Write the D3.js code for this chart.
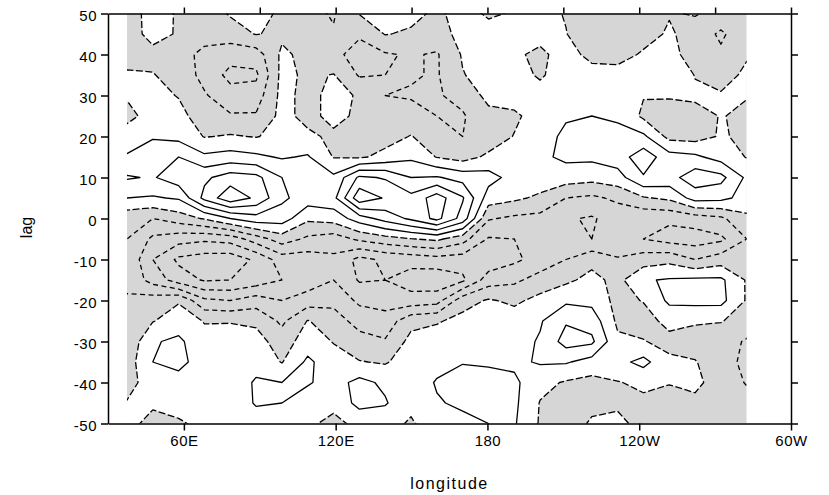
<!DOCTYPE html>
<html>
<head>
<meta charset="utf-8">
<script src="https://cdnjs.cloudflare.com/ajax/libs/d3/7.8.5/d3.min.js"></script>
<style>
    body {
        margin: 0;
        background: white;
    }

    svg {
        display: block;
        font-family: "Liberation Sans", Arial, Helvetica, sans-serif;
    }
</style>
</head>
<body>
<svg id="chart"></svg>
<script>
    // axis ticks and labels
    const lonLabelTicks = [60, 120, 180, 240, 300]
    const lonLabels = ["60E", "120E", "180", "120W", "60W"]
    const lonTopTicks = [60, 90, 120, 150, 180, 210, 240, 270, 300]
    const lagTicks = [-50, -40, -30, -20, -10, 0, 10, 20, 30, 40, 50]

    // data grid: columns span 37.5E .. 282.5E, rows are lags 50 .. -50
    const lonExtent = [37.5, 282.5]
    const lags = [50, 45, 40, 35, 30, 25, 20, 15, 10, 5, 0, -5, -10, -15, -20, -25, -30, -35, -40, -45, -50]
    const levels = [-5, -4, -3, -2, -1, 0, 1, 2, 3, 4, 5]

    // one row per lag, 25 longitudes each
    const field = [
        [-0.5, 0.4, -0.1, -0.6, 0.1, 0.4, -0.2, -0.7, -1.1, 0.05, 0.4, 0.3, -0.2, 0.4, -0.15, 0.1, 0.5, -0.1, -0.6, -0.5, -0.4, -0.05, 0.05, -0.2, -0.05],
        [-0.5, 0.35, -0.1, -0.7, -0.5, 0.05, -0.2, -0.8, -0.9, -0.9, 0.05, -0.15, -0.4, 0.3, 0.4, 0.4, 0.3, 0.05, -1.0, -0.6, -0.3, 0.1, -0.3, -1.2, -0.2],
        [-0.3, -0.3, -0.7, -1.2, -1.6, -1.5, 0.2, -0.3, -0.8, -1.3, -1.1, -0.9, -1.1, 0.1, 0.4, 0.15, -0.2, 0.4, -0.3, -0.3, 0.1, 0.3, -0.4, -0.8, -0.1],
        [0.1, 0.05, -0.4, -1.3, -2.3, -2.2, 0.3, -0.2, 0.05, -1.1, -1.0, -0.9, -1.1, -0.05, 0.4, 0.3, -0.1, 0.4, 0.4, 0.3, 0.4, 1.0, -0.05, -0.4, 0.2],
        [0.1, 0.3, -0.05, -0.9, -1.6, -1.5, 0.3, -0.3, 0.3, -0.1, -1.0, -1.1, -1.1, -0.7, 0.3, 0.5, 0.3, 0.7, 0.8, 0.5, 0.05, 0.1, 0.2, 0.1, 0.05],
        [-0.3, 0.4, 0.3, -0.5, -0.9, -0.9, 0.3, -0.3, 0.3, -0.2, -0.9, -0.6, -1.0, -1.1, -0.3, -0.2, 0.5, 0.9, 1.0, 0.9, -0.2, -0.5, -0.4, 0.05, -0.2],
        [0.5, 0.9, 0.7, -0.05, 0.1, -0.05, 0.3, 0.2, -0.2, -0.4, -0.4, 0.05, -0.6, -1.0, -0.6, 0.05, 0.6, 1.2, 1.1, 1.2, 1.2, -0.3, -0.4, 0.1, -0.2],
        [1.1, 1.6, 2.0, 1.2, 1.4, 1.2, 0.9, 1.1, -0.05, -0.15, 0.3, 0.8, -0.05, -0.4, 0.2, 0.4, 0.8, 1.2, 1.2, 1.5, 2.6, 1.4, 1.2, 0.6, -0.05],
        [2.1, 1.9, 2.6, 2.8, 3.5, 3.3, 2.0, 1.9, 1.2, 3.2, 2.9, 2.0, 2.1, 1.6, 1.4, 0.6, 0.6, 0.5, 0.35, 0.6, 1.9, 1.6, 2.6, 2.3, 0.8],
        [1.0, 0.9, 1.1, 3.3, 4.7, 3.8, 2.2, 1.5, 1.7, 4.7, 3.9, 3.3, 4.5, 3.1, 0.5, 0.2, -0.2, -1.0, -1.2, -0.8, -0.1, 0.2, 1.4, 1.3, 0.6],
        [-0.7, -1.0, -0.5, 0.1, 1.0, 1.6, 1.5, 0.2, 0.4, 1.5, 2.4, 3.2, 4.3, 2.6, -0.9, -1.2, -1.3, -1.9, -2.1, -1.6, -1.8, -1.8, -1.5, -1.2, -0.2],
        [-1.0, -2.2, -2.6, -2.8, -2.6, -1.5, -0.5, -1.2, -1.5, -0.8, -0.4, -0.05, 0.2, -0.6, -2.1, -2.0, -1.7, -2.0, -2.0, -1.8, -2.0, -2.4, -2.5, -2.2, -1.0],
        [-1.1, -3.0, -4.2, -4.5, -4.6, -3.8, -2.5, -2.5, -2.2, -3.3, -2.8, -2.6, -2.4, -2.5, -2.7, -2.2, -1.6, -1.0, -0.3, -0.9, -0.5, -0.3, -1.0, -0.5, -0.6],
        [-1.2, -2.4, -3.5, -4.1, -4.0, -3.6, -3.0, -2.6, -2.0, -3.1, -3.0, -3.5, -3.7, -3.2, -1.5, -1.2, -0.6, -0.2, 0.3, -0.3, 0.9, 1.1, 1.2, 1.2, -0.1],
        [-0.9, -0.5, -0.1, -1.8, -2.0, -1.5, -2.0, -1.5, -1.3, -2.2, -2.4, -2.6, -2.4, -0.4, 0.1, -0.2, 0.3, 0.8, 0.7, -0.3, 0.05, 1.2, 1.3, 1.3, -0.1],
        [-1.0, -0.05, 0.5, -0.05, -0.05, -0.2, -1.2, 0.05, -0.5, -1.4, -1.6, -0.3, -0.1, 0.3, 0.4, 0.5, 0.9, 1.9, 1.6, -0.2, -0.4, 0.3, 0.1, 0.05, -0.4],
        [-0.8, 0.9, 1.2, 0.3, 0.4, 0.4, -0.5, 0.5, -0.05, -0.6, -0.9, 0.3, 0.5, 0.5, 0.5, 0.6, 1.1, 2.4, 2.2, 0.2, 0.05, -0.3, -0.4, -0.6, -1.1],
        [-0.5, 1.0, 1.3, 0.5, 0.6, 0.7, -0.05, 1.2, 0.4, 0.05, -0.1, 0.5, 0.6, 0.95, 0.9, 0.8, 1.1, 1.1, 0.6, 0.7, 1.3, 0.2, 0.05, -0.5, -1.3],
        [-0.3, 0.4, 0.6, 0.3, 0.5, 1.1, 1.0, 1.1, 0.6, 1.3, 0.8, 0.3, 1.1, 1.4, 1.3, 1.2, 0.3, -0.1, -0.3, -0.05, 0.2, 0.05, 0.1, -0.2, -1.1],
        [0.05, 0.1, 0.3, 0.3, 0.3, 1.1, 1.0, 0.5, 0.3, 1.3, 1.1, 0.2, 0.9, 1.2, 1.1, 1.2, -0.05, -0.6, -0.2, -0.2, -0.2, -0.4, -0.1, -0.4, -0.5],
        [0.2, -0.2, -0.1, 0.2, 0.2, 0.5, 0.3, 0.2, -0.3, 0.3, 0.3, -0.1, 0.5, 0.7, 1.0, 1.1, -0.1, -0.4, 0.1, 0.3, -0.4, -0.8, -0.8, -0.6, -0.4]
    ]

    drawChart()

    function getConfig() {
        let width = 829
        let height = 495
        let margin = { top: 13.5, bottom: 71.5, left: 108, right: 38 }
        let bodyWidth = width - margin.left - margin.right
        let bodyHeight = height - margin.top - margin.bottom
        let container = d3.select("#chart")
            .attr("width", width)
            .attr("height", height)
        return { width, height, margin, bodyWidth, bodyHeight, container }
    }

    function getScales(config) {
        let { margin, width, height } = config
        let xScale = d3.scaleLinear()
            .domain([30, 300])
            .range([margin.left, width - margin.right])
        let yScale = d3.scaleLinear()
            .domain([-50, 50])
            .range([height - margin.bottom, margin.top])
        return { xScale, yScale }
    }

    function drawChart() {
        let config = getConfig()
        let scales = getScales(config)
        drawField(config, scales)
        drawAxes(config, scales)
    }

    function drawField(config, scales) {
        let { container } = config
        let { xScale, yScale } = scales
        let nx = field[0].length
        let ny = lags.length
        let dLon = (lonExtent[1] - lonExtent[0]) / (nx - 1)
        let dLag = (lags[0] - lags[ny - 1]) / (ny - 1)

        // grid coords: sample i sits at i + 0.5
        let toScreen = d3.geoTransform({
            point: function (gx, gy) {
                let lon = lonExtent[0] + (gx - 0.5) * dLon
                let lag = lags[0] - (gy - 0.5) * dLag
                this.stream.point(xScale(lon), yScale(lag))
            }
        })
        let path = d3.geoPath(toScreen)

        let values = field.flat()
        let contours = d3.contours()
            .size([nx, ny])
            .thresholds(levels)(values)

        let x0 = xScale(lonExtent[0]), x1 = xScale(lonExtent[1])
        let y0 = yScale(lags[0]), y1 = yScale(lags[ny - 1])

        container.append("clipPath")
            .attr("id", "dataClip")
            .append("rect")
            .attr("x", x0)
            .attr("y", y0)
            .attr("width", x1 - x0)
            .attr("height", y1 - y0)

        let body = container.append("g").attr("clip-path", "url(#dataClip)")

        // negative values are shaded: grey underneath, white where >= 0
        body.append("rect")
            .attr("x", x0)
            .attr("y", y0)
            .attr("width", x1 - x0)
            .attr("height", y1 - y0)
            .attr("fill", "#d6d6d6")

        body.append("path")
            .datum(contours.find(c => c.value === 0))
            .attr("d", path)
            .attr("fill", "white")

        body.selectAll(".iso")
            .data(contours)
            .enter().append("path")
            .attr("class", "iso")
            .attr("d", path)
            .attr("fill", "none")
            .attr("stroke", "black")
            .attr("stroke-width", 1.3)
            .attr("stroke-linejoin", "round")
            .attr("stroke-dasharray", d => d.value < 0 ? "5,3.5" : (d.value === 0 ? "7,2.5" : null))
    }

    function drawAxes(config, scales) {
        let { container, margin, width, height } = config
        let { xScale, yScale } = scales
        let bottom = height - margin.bottom
        let right = width - margin.right

        let styleAxis = g => {
            g.selectAll("path, line").attr("stroke", "black").attr("stroke-width", 1.5)
            g.selectAll("text")
                .attr("fill", "black")
                .style("font-size", "15px")
                .style("letter-spacing", "0.5px")
        }

        let yAxis = d3.axisLeft(yScale)
            .tickValues(lagTicks)
            .tickSize(7)
            .tickSizeOuter(0)
            .tickPadding(4)
            .tickFormat(d => d)
        container.append("g")
            .attr("transform", `translate(${margin.left},0)`)
            .call(yAxis)
            .call(styleAxis)
            .selectAll("text").attr("dy", "0.45em")

        let yAxisRight = d3.axisRight(yScale)
            .tickValues(lagTicks)
            .tickSize(7)
            .tickSizeOuter(0)
            .tickFormat("")
        container.append("g")
            .attr("transform", `translate(${right},0)`)
            .call(yAxisRight)
            .call(styleAxis)

        let xAxis = d3.axisBottom(xScale)
            .tickValues(lonLabelTicks)
            .tickSize(7)
            .tickSizeOuter(0)
            .tickPadding(5)
            .tickFormat((d, i) => lonLabels[i])
        container.append("g")
            .attr("transform", `translate(0,${bottom})`)
            .call(xAxis)
            .call(styleAxis)

        let xAxisTop = d3.axisTop(xScale)
            .tickValues(lonTopTicks)
            .tickSize(6)
            .tickSizeOuter(0)
            .tickFormat("")
        container.append("g")
            .attr("transform", `translate(0,${margin.top})`)
            .call(xAxisTop)
            .call(styleAxis)

        // axis titles
        container.append("text")
            .attr("transform", `translate(32,${(margin.top + bottom) / 2 + 9}) rotate(-90)`)
            .attr("text-anchor", "middle")
            .style("font-size", "16px")
            .text("lag")

        container.append("text")
            .attr("x", (margin.left + right) / 2)
            .attr("y", 489)
            .attr("text-anchor", "middle")
            .style("font-size", "16px")
            .style("letter-spacing", "1.5px")
            .text("longitude")
    }
</script>
</body>
</html>
